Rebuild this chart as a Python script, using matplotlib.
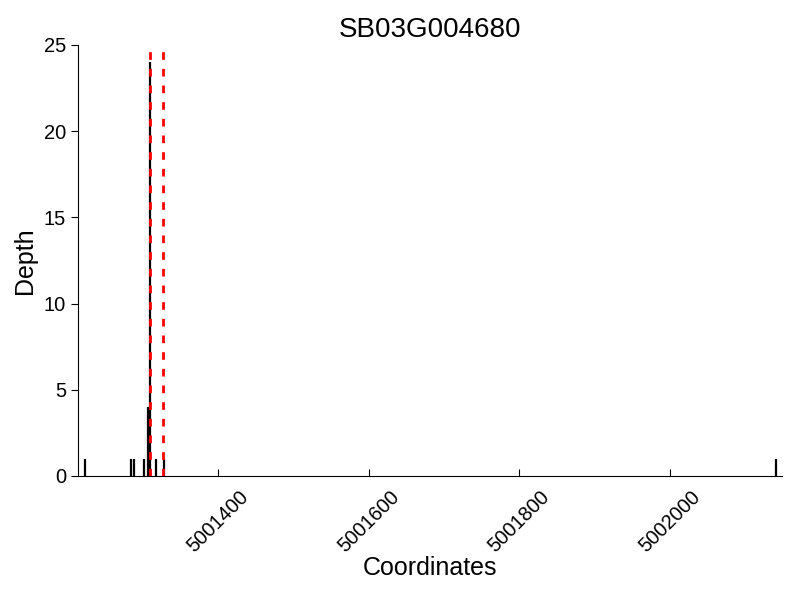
#!/usr/bin/env python3
# -*- coding: utf-8 -*-
"""
Read depth plot for one gene region.
"""

import matplotlib
matplotlib.use('Agg')
import matplotlib.pyplot as plt

# positions and depths
gene_name = 'SB03G004680'
positions = [5001223, 5001285, 5001289, 5001301, 5001307, 5001310,
             5001317, 5001328, 5002141]
depths = [1, 1, 1, 1, 4, 24, 1, 1, 1]

# region boundaries (red dashed lines)
region_start = 5001310
region_end = 5001327

x_ticks = [5001400, 5001600, 5001800, 5002000]
y_ticks = [0, 5, 10, 15, 20, 25]


def main() -> None:
    plt.rcParams['font.family'] = ['Liberation Sans', 'DejaVu Sans']

    fig = plt.figure(figsize=(8, 6), dpi=100)
    ax = fig.add_axes([0.0975, 0.2067, 0.88, 0.7183])

    # depth bars
    ax.vlines(positions, 0, depths, colors='black', linewidth=1.6)

    # region boundaries
    for xpos in [region_start, region_end]:
        ax.axvline(xpos, color='red', linewidth=2, dashes=(2.75, 3.25))

    ax.set_xlim(5001214, 5002149)
    ax.set_ylim(0, 25)
    ax.set_xticks(x_ticks)
    ax.set_xticklabels([str(t) for t in x_ticks], rotation=45, ha='center')
    ax.set_yticks(y_ticks)

    ax.spines['top'].set_visible(False)
    ax.spines['right'].set_visible(False)
    ax.tick_params(axis='y', direction='out', length=5, labelsize=14.5)
    ax.tick_params(axis='x', direction='in', length=5, labelsize=14.5, pad=8)

    ax.set_xlabel('Coordinates', fontsize=18, labelpad=0)
    ax.set_ylabel('Depth', fontsize=18, labelpad=5)
    ax.set_title(gene_name, fontsize=20)

    fig.savefig('out.png', dpi=100)


if __name__ == '__main__':
    main()
